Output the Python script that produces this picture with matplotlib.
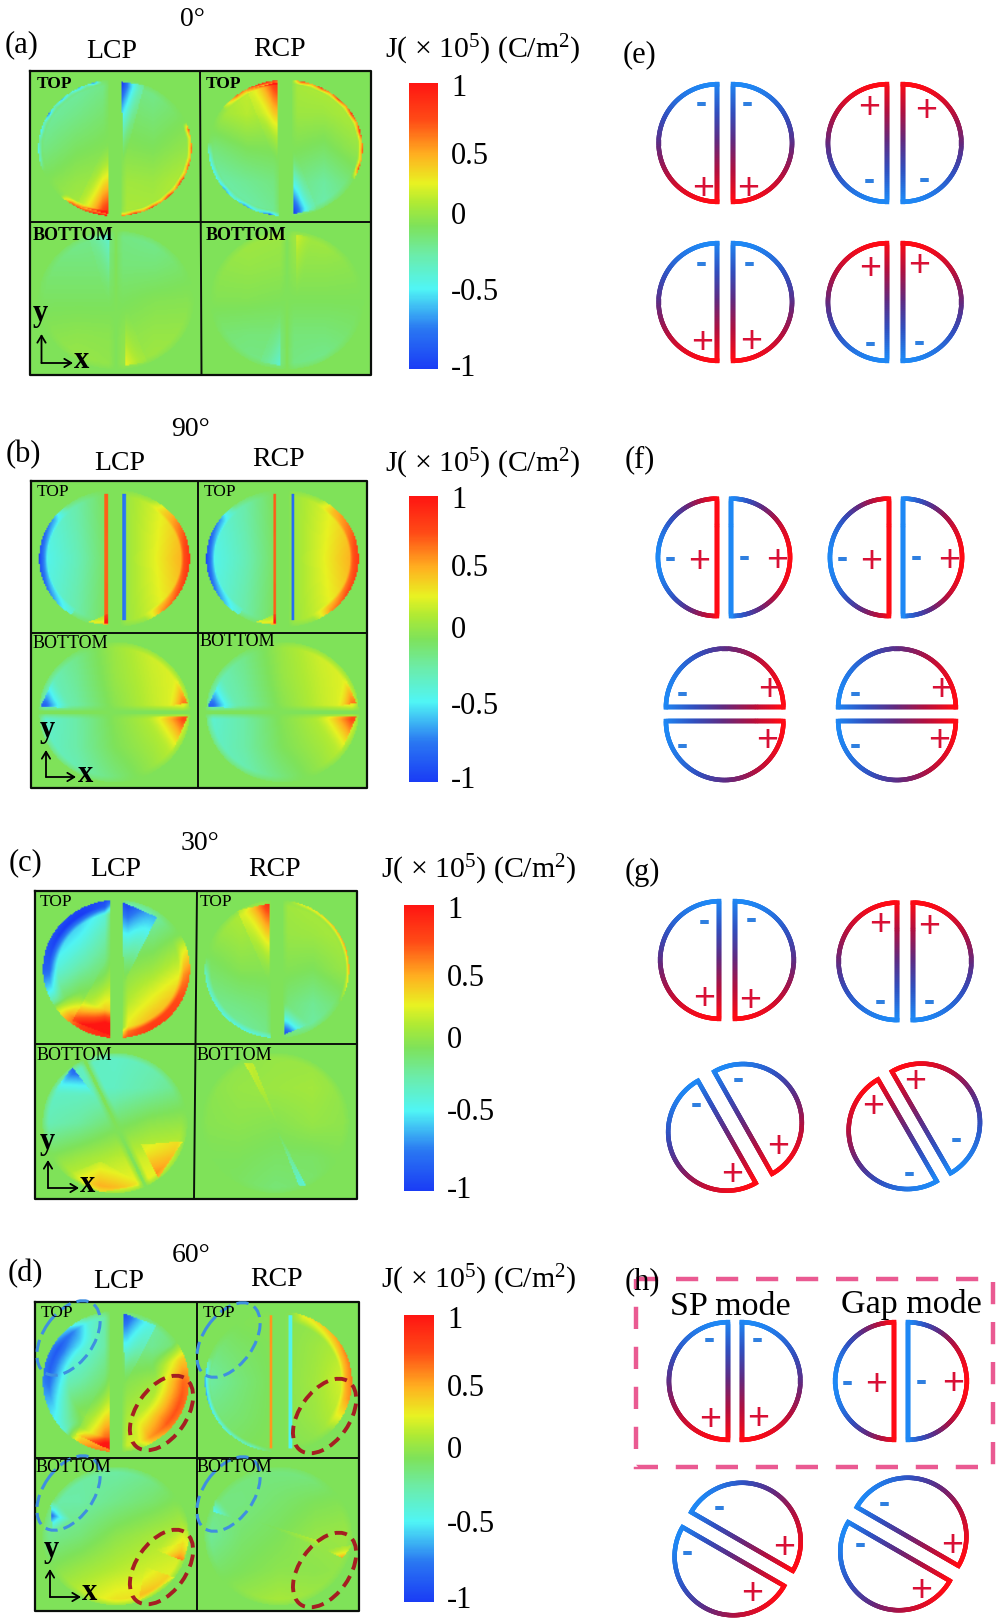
#!/usr/bin/env python3
import matplotlib
matplotlib.use('Agg')
import matplotlib.pyplot as plt
from matplotlib.collections import LineCollection
from matplotlib.colors import LinearSegmentedColormap
from matplotlib.patches import Ellipse, Rectangle
import numpy as np

plt.rcParams['font.family'] = ['Liberation Serif', 'DejaVu Serif']
plt.rcParams['mathtext.fontset'] = 'custom'
plt.rcParams['mathtext.rm'] = 'Liberation Serif'
plt.rcParams['mathtext.default'] = 'rm'

# colour scale of the field maps
field_nodes = [(0.0, '#1a3cf5'), (0.14, '#2a78f2'), (0.28, '#50f5f5'), (0.4, '#6cecA8'),
               (0.5, '#7ee25a'), (0.58, '#aeea34'), (0.65, '#e8f222'), (0.75, '#ffb020'),
               (0.87, '#ff4c16'), (1.0, '#ff1512')]
field_cmap = LinearSegmentedColormap.from_list('field', field_nodes)
charge_cmap = LinearSegmentedColormap.from_list('charge', ['#1e88f5', '#3050c0', '#602a80', '#b01040', '#ff0a14'])

# coarse value grids, rows top to bottom, columns left to right
grid_a1 = [[-.2, -.2, -.1, -.15, -.05], [-.2, -.12, -.03, -.08, 0], [-.12, -.02, .03, 0, .08], [0, .08, .12, .1, .2], [.08, .15, .15, .15, .25]]
grid_a2 = [[.15, .22, .12, .18, .2], [.08, .18, .1, .1, .18], [-.1, 0, .02, -.03, .1], [-.22, -.15, -.08, -.18, -.03], [-.25, -.22, -.12, -.22, -.12]]
grid_a3 = [[-.15, -.15, -.1, -.15, -.08], [-.08, -.08, -.08, -.08, -.03], [-.02, -.02, -.02, .02, .03], [.03, .05, .04, .08, .08], [.08, .1, .06, .12, .1]]
grid_a4 = [[.1, .12, .1, .14, .08], [.06, .08, .06, .06, .04], [.02, .02, 0, 0, 0], [-.06, -.08, -.08, -.08, -.04], [-.08, -.12, -.1, -.15, -.08]]
grid_b1 = [[-.35, -.2, .05, .22, .4], [-.42, -.22, .04, .25, .5], [-.45, -.25, .03, .27, .55], [-.42, -.22, .04, .25, .5], [-.35, -.2, .05, .22, .4]]
grid_b3 = [[-.2, -.1, .1, .25, .3], [-.3, -.15, .08, .22, .32], [-.35, -.2, .03, .2, .35], [-.32, -.2, 0, .12, .28], [-.3, -.25, -.1, .05, .2]]
grid_c1 = [[-.8, -.7, -.3, -.3, -.1], [-.7, -.45, -.12, -.1, .05], [-.45, -.2, 0, .1, .3], [-.1, .1, .1, .35, .6], [.2, .4, .3, .65, .7]]
grid_c2 = [[.1, .2, .1, .15, .15], [.05, .12, .08, .1, .15], [-.05, .03, .03, 0, .1], [-.15, -.1, -.05, -.15, -.03], [-.2, -.2, -.1, -.2, -.1]]
grid_c3 = [[-.25, -.25, -.3, -.25, -.2], [-.3, -.3, -.28, -.2, -.1], [-.25, -.18, -.05, .05, .08], [0, .1, .18, .25, .28], [.25, .3, .35, .35, .28]]
grid_c4 = [[.03, .05, .08, .08, .03], [.03, .08, .1, .12, .05], [.03, .05, .03, .08, .05], [0, 0, -.03, -.03, .02], [0, -.03, -.08, -.05, 0]]
grid_d1 = [[-.5, -.45, -.1, -.2, -.1], [-.5, -.4, -.1, -.15, 0], [-.35, -.2, 0, .1, .25], [-.1, .05, .1, .25, .35], [.1, .2, .2, .35, .35]]
grid_d2 = [[0, .03, .03, .05, .05], [-.1, -.03, .02, .1, .2], [-.2, -.08, .02, .12, .3], [-.1, -.05, .02, .1, .25], [-.05, 0, .02, .03, .1]]
grid_d3 = [[-.15, -.18, -.2, -.15, -.05], [-.2, -.2, -.12, -.05, .05], [-.15, -.08, .05, .13, .2], [0, .1, .18, .25, .3], [.15, .25, .38, .4, .3]]
grid_d4 = [[-.05, -.08, -.1, -.12, -.05], [-.1, -.1, -.05, 0, .03], [-.18, -.05, 0, .08, .1], [-.05, 0, .05, .05, .08], [.03, .1, .15, .12, .1]]

# rim bands: angles (deg), rim values, depth into the disc
arcs_a1 = [([100, 106, 112, 118, 126, 134, 142, 150, 158, 166, 174, 182, 190, 200],
            [0, -.7, -.2, -.55, -.25, -.6, -.2, -.7, -.25, -.45, -.2, -.35, -.3, 0], .05),
           ([-90, -82, -75, -68, -60, -52, -45, -38, -30, -22, -15, -8, 0, 8, 16, 22],
            [.85, .5, .85, .5, .8, .5, .85, .5, .85, .5, .75, .5, .65, .4, .75, 0], .06),
           ([-135, -125, -115, -105, -96], [0, .75, .7, .95, .95], .08)]
arcs_a2 = [([85, 78, 70, 62, 54, 46, 38, 30, 22, 14, 6, -2, -10, -18, -28],
            [0, .8, .45, .8, .5, .85, .5, .9, .5, .9, .5, .7, .5, .85, 0], .06),
           ([96, 105, 113, 121, 130, 145], [.85, .9, .8, .55, .65, 0], .07),
           ([175, 186, 198, 208, 218, 228, 238, 248, 258, 268],
            [0, -.35, -.45, -.35, -.6, -.3, -.65, -.35, -.8, 0], .06)]
arcs_b1 = [([130, 145, 165, 180, 195, 215, 235], [0, -.55, -.75, -.82, -.75, -.55, -.25], .11),
           ([60, 45, 30, 10, -10, -30, -50, -65], [0, .3, .5, .7, .7, .65, .5, 0], .12)]
arcs_b2 = [([130, 145, 165, 180, 195, 215, 235], [0, -.55, -.75, -.82, -.75, -.55, -.25], .11),
           ([60, 45, 30, 10, -10, -30, -50, -65], [0, .4, .5, .65, .65, .65, .5, 0], .12)]
arcs_c1 = [([90, 95, 120, 150, 180, 200, 215], [0, -.8, -.75, -.7, -.7, -.4, 0], .2),
           ([-90, -85, -60, -30, -5, 15, 30], [.6, .6, .65, .6, .55, .3, 0], .15),
           ([-150, -135, -120, -95], [0, .45, .7, .8], .4)]
arcs_c2 = [([80, 70, 45, 20, 0, -20, -30], [0, .25, .4, .5, .5, .2, 0], .05),
           ([170, 185, 210, 240, 265, 275], [0, -.3, -.35, -.35, -.3, 0], .08)]
arcs_d1 = [([115, 130, 150, 170, 190, 210, 225, 240], [0, -.35, -.55, -.6, -.55, -.45, -.35, 0], .35),
           ([35, 20, 0, -20, -40, -60, -70], [0, .4, .55, .55, .5, .3, 0], .45),
           ([-135, -125, -110, -95], [0, .35, .55, .6], .2)]
arcs_d2 = [([80, 70, 45, 25, 5, -15, -30, -45], [0, .3, .45, .55, .55, .5, .25, 0], .15),
           ([160, 170, 190, 210, 230, 250, 265], [0, -.5, -.6, -.45, -.35, -.3, 0], .06)]

# triangles (u, v, value) for the three corners, first corner is the peak, u and v in disc radii
wedges_a1 = [[(-.085, -.97, .9), (-.09, .12, 0), (-.5, -.85, .05)], [(.09, .97, -1.0), (.1, -.27, 0), (.38, .92, -.1)]]
wedges_a2 = [[(-.1, .97, .85), (-.1, -.27, 0), (-.5, .85, .05)], [(.1, -.97, -1.0), (.1, 0, 0), (.4, -.9, -.05)]]
wedges_a3 = [[(-.08, .95, -.25), (-.08, -.1, 0), (-.35, .9, -.03)], [(.12, -.95, .25), (.12, -.1, 0), (.4, -.9, .03)]]
wedges_a4 = [[(.12, .95, .15), (.12, -.05, 0), (.35, .9, .0)], [(-.08, -.95, -.25), (-.08, -.1, 0), (-.35, -.9, -.03)]]
wedges_b1 = [[(-.07, -.97, .6), (-.07, -.8, .1), (-.35, -.93, .4)]]
wedges_b3 = [[(-.98, .08, -.7), (-.55, .05, 0), (-.8, .5, 0)], [(.97, -.07, .6), (.4, -.07, 0), (.75, -.62, 0)],
             [(.97, .13, .5), (.8, .55, 0), (.7, .08, 0)]]
wedges_c1 = [[(-.07, -.97, .7), (-.07, .25, 0), (-.6, -.75, .1)], [(.08, .97, -.85), (.1, -.2, 0), (.55, .75, -.4)]]
wedges_c2 = [[(-.1, .95, .85), (-.1, -.2, 0), (-.55, .85, .1)], [(.1, -.95, -.95), (.1, -.45, 0), (.45, -.8, 0)]]
wedges_c3 = [[(-.59, .8, -.7), (-.88, .41, 0), (-.27, .37, 0)], [(.6, -.79, .35), (.36, -.31, .1), (.94, -.26, .2)],
             [(-.67, -.74, 0), (-.2, -.55, .05), (-.2, -.99, .25)], [(-.2, -.55, .05), (.4, -.88, 0), (-.2, -.99, .25)]]
wedges_c4 = [[(-.42, .85, .2), (-.3, .85, .15), (.05, -.05, 0)], [(.42, -.9, -.35), (.32, -.9, -.3), (0, -.05, 0)]]
wedges_d1 = [[(-.08, -.97, .85), (-.08, .2, 0), (-.55, -.75, .05)], [(.1, .97, -.9), (.12, -.05, 0), (.55, .8, -.2)]]
wedges_d3 = [[(-.89, .3, -.65), (-.58, .23, 0), (-.9, .6, 0)], [(-.89, .3, -.65), (-.58, .23, 0), (-.85, .02, 0)],
             [(.92, -.36, .5), (.53, -.2, 0), (1.0, -.08, .2)], [(1.0, -.08, .2), (.53, -.2, 0), (.95, .3, 0)],
             [(.3, -.95, .15), (.4, -.45, 0), (.8, -.6, .15)]]
wedges_d4 = [[(-.89, .35, -.4), (-.6, .25, 0), (-.85, .6, 0)], [(.87, -.32, .5), (.63, -.2, 0), (1.0, -.13, .1)],
             [(.58, -.08, .15), (-.42, .26, 0), (.55, -.15, .05)]]

# vertical stripes along the gap: u0, u1, v0, v1, value
strips_b1 = [(-.14, -.08, -.95, .95, .7), (.1, .15, -.9, .95, -.8)]
strips_b2 = [(-.12, -.06, -.95, .95, .7), (.12, .16, -.9, .95, -.85)]
strips_d2 = [(-.12, -.04, -.95, .95, .55), (.13, .18, -.95, .95, -.45)]

# gap of each map: angle of the gap line (deg) and half width, in disc radii
gap_vert = (90, .085)
gap_horiz = (0, .03)
gap_c = (-65, .02)

panels_a = [(grid_a1, arcs_a1, wedges_a1, [], gap_vert), (grid_a2, arcs_a2, wedges_a2, [], gap_vert),
            (grid_a3, [], wedges_a3, [], (90, .02)), (grid_a4, [], wedges_a4, [], (90, .02))]
panels_b = [(grid_b1, arcs_b1, wedges_b1, strips_b1, gap_vert), (grid_b1, arcs_b2, wedges_b1, strips_b2, gap_vert),
            (grid_b3, [], wedges_b3, [], gap_horiz), (grid_b3, [], wedges_b3, [], gap_horiz)]
panels_c = [(grid_c1, arcs_c1, wedges_c1, [], gap_vert), (grid_c2, arcs_c2, wedges_c2, [], gap_vert),
            (grid_c3, [], wedges_c3, [], gap_c), (grid_c4, [], wedges_c4, [], (0, 0))]
panels_d = [(grid_d1, arcs_d1, wedges_d1, [], gap_vert), (grid_d2, arcs_d2, [], strips_d2, gap_vert),
            (grid_d3, [], wedges_d3, [], (0, 0)), (grid_d4, [], wedges_d4, [], (0, 0))]

# ring outlines of the schematic panels: zoom-grid centre, gap angle, polarity, gradient mode, gap half width
panel_offsets = {'e': (600, 30), 'f': (600, 430), 'g': (600, 830), 'h': (600, 1240)}
rings_e = [(376, 339, 90, 1, 'along', 24), (884, 339, 90, -1, 'along', 24), (376, 816, 90, 1, 'along', 24), (884, 816, 90, -1, 'along', 24)]
rings_f = [(372, 382, 90, 1, 'across', 22), (888, 382, 90, 1, 'across', 22), (374, 853, 0, 1, 'along', 21), (891, 853, 0, 1, 'along', 21)]
rings_g = [(381, 390, 90, 1, 'along', 24), (915, 394, 90, -1, 'along', 23), (405, 892, 60.5, 1, 'along', 28), (943, 889, 60, -1, 'along', 24)]
rings_h = [(404, 423, 90, 1, 'along', 21), (903, 423, 90, 1, 'across', 21), (413, 927, 30, 1, 'along', 26), (910, 912, 30, 1, 'along', 26)]
minus_e = [(303, 225), (443, 222), (808, 455), (973, 452), (303, 703), (449, 703), (810, 945), (958, 940)]
plus_e = [(310, 478), (443, 478), (807, 235), (977, 243), (306, 938), (452, 935), (809, 716), (958, 709)]
minus_f = [(210, 388), (434, 385), (727, 388), (950, 385), (248, 793), (248, 948), (765, 793), (765, 948)]
plus_f = [(297, 397), (530, 392), (812, 397), (1046, 392), (507, 780), (500, 934), (1023, 780), (1016, 934)]
minus_g = [(313, 277), (453, 273), (840, 516), (988, 516), (416, 750), (288, 827), (1070, 933), (927, 1033)]
plus_g = [(313, 507), (450, 513), (841, 286), (988, 290), (533, 952), (397, 1035), (945, 755), (820, 830)]
minus_h = [(329, 302), (471, 300), (743, 430), (964, 427), (358, 805), (263, 941), (854, 792), (780, 917)]
plus_h = [(331, 541), (473, 538), (827, 436), (1060, 431), (553, 925), (457, 1061), (1056, 918), (962, 1052)]

cbar_ticks = ['1', '0.5', '0', '-0.5', '-1']
angle_labels = ['0°', '90°', '30°', '60°']
map_labels = ['(a)', '(b)', '(c)', '(d)']
ring_labels = ['(e)', '(f)', '(g)', '(h)']


def build_field(grid, arcs, wedges, strips, gap, n=130):
    # disc sits slightly below the centre of its frame
    cols = np.linspace(0, 1, n)
    u = (cols - 0.5) / 0.455
    v = (0.51 - cols) / 0.455
    grid_pos = [-1, -.5, 0, .5, 1]
    rows = np.array([np.interp(u, grid_pos, r) for r in grid])
    base = np.array([np.interp(v, grid_pos, c[::-1]) for c in rows.T]).T
    uu, vv = np.meshgrid(u, v)
    rr = np.hypot(uu, vv)
    th = np.degrees(np.arctan2(vv, uu))
    gap_ang, gap_half = gap
    nx, ny = -np.sin(np.radians(gap_ang)), np.cos(np.radians(gap_ang))
    dist = np.abs(uu * nx + vv * ny) - gap_half
    # the smooth background dies away towards the rim and the gap
    field = base * np.clip((1 - rr) / .12 + .3, 0, 1)
    if gap_half > 0:
        field = field * np.clip(dist / .1 + .3, 0, 1)
    for angles, vals, depth in arcs:
        a0 = angles[0] if angles[0] < angles[-1] else angles[-1]
        ang = a0 + (th - a0) % 360
        xs, ys = (angles, vals) if angles[0] < angles[-1] else (angles[::-1], vals[::-1])
        rim = np.interp(ang, xs, ys, left=0, right=0)
        field += rim * np.clip(1 - (1 - rr) / depth, 0, 1)
    for (x1, y1, a), (x2, y2, b), (x3, y3, c) in wedges:
        det = (y2 - y3) * (x1 - x3) + (x3 - x2) * (y1 - y3)
        l1 = ((y2 - y3) * (uu - x3) + (x3 - x2) * (vv - y3)) / det
        l2 = ((y3 - y1) * (uu - x3) + (x1 - x3) * (vv - y3)) / det
        l3 = 1 - l1 - l2
        inside = (l1 >= 0) & (l2 >= 0) & (l3 >= 0)
        field += np.where(inside, np.clip(l1, 0, 1) ** 1.6 * a + l2 * b + l3 * c, 0)
    for u0, u1, v0, v1, val in strips:
        field += np.where((uu > u0) & (uu < u1) & (vv > v0) & (vv < v1), val, 0)
    keep = (rr <= 1) & (dist >= 0)
    return np.clip(np.where(keep, field, 0), -1, 1)


def draw_block(ax, panels, xl, xm_top, xm_bot, xr, yt, ym, yb):
    boxes = [(xl, xm_top, yt, ym), (xm_top, xr, yt, ym), (xl, xm_bot, ym, yb), (xm_bot, xr, ym, yb)]
    for spec, (x0, x1, y0, y1) in zip(panels, boxes):
        ax.imshow(build_field(*spec), extent=(x0, x1, y1, y0), cmap=field_cmap, vmin=-1, vmax=1,
                  aspect='auto', interpolation='bilinear', zorder=1)
    ax.plot([xl, xr, xr, xl, xl], [yt, yt, yb, yb, yt], color='#0a0f0a', lw=1.6, zorder=3)
    ax.plot([xm_top, xm_bot], [yt, yb], color='#0a0f0a', lw=1.4, zorder=3)
    ax.plot([xl, xr], [ym, ym], color='#0a0f0a', lw=1.4, zorder=3)


def ring_half(ax, cx, cy, angle, side, polarity, mode, gap, r=58.7):
    a = np.radians(angle)
    e = np.array([np.cos(a), np.sin(a)])
    n = np.array([-np.sin(a), np.cos(a)]) * side
    mid = np.array([cx, cy]) + n * gap
    t = np.linspace(0, np.pi, 90)
    arc = [mid + r * (np.cos(s) * e + np.sin(s) * n) for s in t]
    edge = [mid + s * r * e for s in np.linspace(-1, 1, 60)]
    pts = np.array(arc + edge)
    if mode == 'along':
        pos = (pts - np.array([cx, cy])) @ e / (2 * r) + 0.5
        pos = pos if polarity > 0 else 1 - pos
    else:
        # each half runs blue to red from its own left side
        lo = pts[:, 0].min()
        pos = (pts[:, 0] - lo) / r
    segs = np.stack([pts[:-1], pts[1:]], axis=1)
    lc = LineCollection(segs, colors=charge_cmap(np.clip((pos[:-1] + pos[1:]) / 2, 0, 1)),
                        linewidths=3.2, capstyle='projecting', zorder=4)
    ax.add_collection(lc)


def draw_rings(ax, key, rings, minus, plus):
    ox, oy = panel_offsets[key]
    for zx, zy, angle, pol, mode, gap in rings:
        for side in (1, -1):
            ring_half(ax, ox + zx / 3, oy + zy / 3, angle, side, pol, mode, gap / 3)
    for zx, zy in minus:
        ax.text(ox + zx / 3, oy + zy / 3, '-', color='#2f7fe0', fontsize=24, fontweight='bold',
                family='Liberation Sans', ha='center', va='center', zorder=5)
    for zx, zy in plus:
        ax.text(ox + zx / 3, oy + zy / 3, '+', color='#d81035', fontsize=27, family='Liberation Sans',
                ha='center', va='center', zorder=5)


def draw_cbar(ax, x0, x1, y0, y1, xt, tick_ys):
    sm = plt.cm.ScalarMappable(cmap=field_cmap, norm=plt.Normalize(-1, 1))
    cax = fig.add_axes([x0 / 1000, 1 - y1 / 1623, (x1 - x0) / 1000, (y1 - y0) / 1623])
    cb = fig.colorbar(sm, cax=cax)
    cb.outline.set_visible(False)
    cb.set_ticks([])
    for lab, y in zip(cbar_ticks, tick_ys):
        ax.text(xt - 3, y + 3, lab, fontsize=22, ha='left', va='center')


def draw_axes_mark(ax, ox, oy, tipx, tipy, lx, ly):
    arrow = dict(arrowstyle='->,head_length=0.5,head_width=0.3', color='black', lw=1.3, shrinkA=0, shrinkB=0)
    ax.annotate('', xy=(ox, tipy), xytext=(ox, oy), arrowprops=arrow, zorder=6)
    ax.annotate('', xy=(tipx, oy), xytext=(ox, oy), arrowprops=arrow, zorder=6)
    ax.text(lx[0], lx[1], 'y', fontsize=22, ha='center', va='center', zorder=6, fontweight='bold')
    ax.text(ly[0], ly[1], 'x', fontsize=22, ha='center', va='center', zorder=6, fontweight='bold')


fig = plt.figure(figsize=(10, 16.23), dpi=100)
ax = fig.add_axes([0, 0, 1, 1])

draw_block(ax, panels_a, 30, 200, 201.5, 371, 71, 222, 375)
draw_block(ax, panels_b, 31, 198, 198, 367, 481, 633, 788)
draw_block(ax, panels_c, 34.6, 197, 194, 356.5, 891, 1044, 1199)
draw_block(ax, panels_d, 35.4, 196.5, 196.5, 359, 1302, 1458, 1611)

# headings over each block
heads = [(22, 45, 192, 17, 111.5, 48, 280, 47, 389, 48), (23, 455, 191, 427, 120, 460, 279, 458, 389, 462),
         (25, 863, 200, 841, 116, 867, 275, 867, 385, 868), (25, 1274, 191, 1253, 118.5, 1279, 277, 1278, 385, 1278)]
for i, (lx, ly, ax_, ay, l1, l1y, r1, r1y, jx, jy) in enumerate(heads):
    ax.text(lx, ly, map_labels[i], fontsize=22, ha='center', va='center')
    ax.text(ax_, ay + 2, angle_labels[i], fontsize=20, ha='center', va='center')
    ax.text(l1, l1y + 3, 'LCP', fontsize=20, ha='center', va='center')
    ax.text(r1, r1y + 2, 'RCP', fontsize=20, ha='center', va='center')
    ax.text(jx - 4, jy + 2, 'J( × 10$^5$) (C/m$^2$)', fontsize=21.5, ha='left', va='center')

# TOP / BOTTOM tags
tags_top = [(37, 84), (206, 84), (37, 492), (204, 492), (40, 902), (200, 902), (41, 1313), (203, 1313)]
tags_bot = [(33, 235), (206, 235), (33, 643), (200, 642), (37, 1056), (197, 1056), (36, 1467), (197, 1467)]
for i, (x, y) in enumerate(tags_top):
    ax.text(x, y, 'TOP', fontsize=12.5, ha='left', va='center', zorder=6, fontweight='bold' if i < 2 else 'normal')
for i, (x, y) in enumerate(tags_bot):
    ax.text(x, y, 'BOTTOM', fontsize=13, ha='left', va='center', zorder=6, fontweight='bold' if i < 2 else 'normal')

draw_axes_mark(ax, 41.5, 363, 73, 334, (40, 313), (82, 360))
draw_axes_mark(ax, 46, 777, 76, 750, (47, 730), (85, 775))
draw_axes_mark(ax, 48, 1188, 79, 1160, (47, 1142), (88, 1185))
draw_axes_mark(ax, 50, 1597, 81, 1569, (51, 1549), (90, 1593))

draw_cbar(ax, 409, 438, 83, 369, 454, [85, 153, 214, 289, 365])
draw_cbar(ax, 409, 438, 496, 782, 454, [498, 566, 628, 703, 778])
draw_cbar(ax, 404, 433.5, 905, 1191, 450, [907, 975, 1037, 1110, 1187])
draw_cbar(ax, 404, 433.5, 1315, 1602, 450, [1317, 1386, 1447, 1521, 1598])

# dashed ellipses on (d)
blue_marks = [(68.5, 1338), (228.5, 1340), (68.5, 1493), (228.5, 1494)]
red_marks = [(161.5, 1413), (324.6, 1416), (161.5, 1567), (324.6, 1570)]
for (x, y) in blue_marks:
    ax.add_patch(Ellipse((x, y), 84, 50, angle=-55, fill=False, ec='#3f8fe0', lw=2.2, ls=(0, (4, 2)), zorder=5))
for (x, y) in red_marks:
    ax.add_patch(Ellipse((x, y), 84, 50, angle=-55, fill=False, ec='#a51e22', lw=2.8, ls=(0, (3.2, 1.8)), zorder=5))

draw_rings(ax, 'e', rings_e, minus_e, plus_e)
draw_rings(ax, 'f', rings_f, minus_f, plus_f)
draw_rings(ax, 'g', rings_g, minus_g, plus_g)
draw_rings(ax, 'h', rings_h, minus_h, plus_h)

for lab, (x, y) in zip(ring_labels, [(639, 55), (640, 460), (642, 872), (642, 1282)]):
    ax.text(x, y, lab, fontsize=22, ha='center', va='center', zorder=6)
ax.text(730, 1307, 'SP mode', fontsize=24.5, ha='center', va='center', zorder=6)
ax.text(911, 1304, 'Gap mode', fontsize=24.5, ha='center', va='center', zorder=6)
ax.add_patch(Rectangle((636, 1279), 357, 188, fill=False, ec='#ea5a92', lw=3.2, ls=(0, (5, 4)), zorder=3))

ax.set_xlim(0, 1000)
ax.set_ylim(1623, 0)
ax.axis('off')

plt.savefig('out.png', dpi=100)
plt.close()
